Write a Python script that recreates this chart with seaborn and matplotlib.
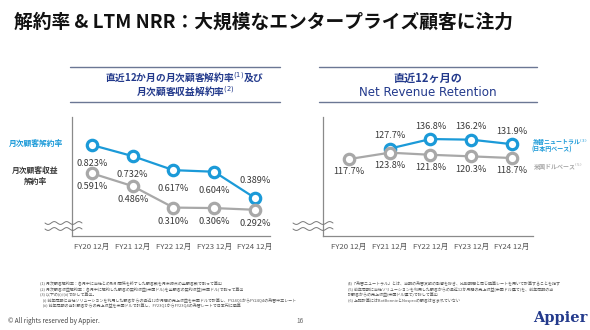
import numpy as np
import pandas as pd
import matplotlib
matplotlib.use("Agg")
import matplotlib.pyplot as plt
from matplotlib.lines import Line2D
import seaborn as sns

# ---- data ----
periods = ["FY20 12月", "FY21 12月", "FY22 12月", "FY23 12月", "FY24 12月"]
churn_customers = [0.823, 0.732, 0.617, 0.604, 0.389]      # 月次顧客解約率 (%)
churn_revenue = [0.591, 0.486, 0.310, 0.306, 0.292]        # 月次顧客収益解約率 (%)
nrr_fx_neutral = [None, 127.7, 136.8, 136.2, 131.9]         # 為替ニュートラル (%)
nrr_usd = [117.7, 123.8, 121.8, 120.3, 118.7]               # 米国ドルベース (%)

BLUE = "#1b9ad8"
GRAY = "#a8a8a8"
NAVY = "#233a8c"
TEXT = "#3a3a3a"

sns.set_theme(style="white")
plt.rcParams["font.family"] = ["Noto Sans CJK JP", "DejaVu Sans"]

W, H = 590, 330
fig = plt.figure(figsize=(W / 100, H / 100), dpi=100)
fig.patch.set_facecolor("white")


def px_axes(x0, y0, x1, y1):
    """Axes from pixel box (top-left origin)."""
    return fig.add_axes([x0 / W, 1 - y1 / H, (x1 - x0) / W, (y1 - y0) / H])


def ftext(x, y, s, **kw):
    fig.text(x / W, 1 - y / H, s, **kw)


def fline(xs, ys, **kw):
    xs = np.asarray(xs, float)
    ys = np.asarray(ys, float)
    fig.add_artist(Line2D(xs / W, 1 - ys / H, transform=fig.transFigure, **kw))


def wave(x0, x1, y, color="#777777"):
    xs = np.linspace(x0, x1, 80)
    ys = y + 1.4 * np.sin((xs - x0) / (x1 - x0) * 2 * np.pi * 3)
    fline(xs, ys, color=color, lw=0.7)


def series(ax, xs, ys, color):
    df = pd.DataFrame({"x": xs, "y": ys}).dropna()
    sns.lineplot(data=df, x="x", y="y", ax=ax, color=color, lw=1.6,
                 marker="o", markersize=7.5, markerfacecolor="white",
                 markeredgecolor=color, markeredgewidth=2.3, errorbar=None)
    return df


def style_axes(ax, xlim, ylim):
    ax.set_xlim(*xlim)
    ax.set_ylim(*ylim)
    ax.set_facecolor("none")
    for s in ["top", "right"]:
        ax.spines[s].set_visible(False)
    for s in ["left", "bottom"]:
        ax.spines[s].set_color("#8a8a8a")
        ax.spines[s].set_linewidth(0.9)
    ax.set_yticks([])
    ax.set_xticks(range(len(periods)))
    ax.set_xticklabels(periods, fontsize=5.6, color="#555555")
    ax.tick_params(axis="x", length=0, pad=5)
    ax.set_xlabel("")
    ax.set_ylabel("")


# ---- page title ----
ftext(14, 22, "解約率 & LTM NRR：大規模なエンタープライズ顧客に注力",
      fontsize=13.5, fontweight="bold", color="#111111", va="center", ha="left")

# ---- left panel: churn ----
fline([70, 280], [67, 67], color="#6b7794", lw=1.0)
fline([70, 280], [102, 102], color="#6b7794", lw=1.0)
ftext(185, 78, "直近12か月の月次顧客解約率$^{(1)}$及び", fontsize=7, fontweight="bold",
      color=NAVY, ha="center", va="center")
ftext(185, 92, "月次顧客収益解約率$^{(2)}$", fontsize=7, fontweight="bold",
      color=NAVY, ha="center", va="center")

axL = px_axes(72, 117, 270, 236)
x = np.arange(len(periods))
dfb = series(axL, x, churn_customers, BLUE)
dfg = series(axL, x, churn_revenue, GRAY)
style_axes(axL, (-0.49, 4.37), (0.077, 1.053))

for xi, v in zip(dfb["x"], dfb["y"]):
    above = xi == 4
    axL.annotate(f"{v:.3f}%", (xi, v), xytext=(0, 9 if above else -10),
                 textcoords="offset points", ha="center",
                 va="bottom" if above else "top", fontsize=6.6, color=TEXT)
for xi, v in zip(dfg["x"], dfg["y"]):
    axL.annotate(f"{v:.3f}%", (xi, v), xytext=(0, -6.5),
                 textcoords="offset points", ha="center", va="top",
                 fontsize=6.6, color=TEXT)

ftext(36, 143, "月次顧客解約率", fontsize=5.6, fontweight="bold", color=BLUE,
      ha="center", va="center")
ftext(35, 170, "月次顧客収益", fontsize=5.6, fontweight="bold", color=TEXT,
      ha="center", va="center")
ftext(35, 181, "解約率", fontsize=5.6, fontweight="bold", color=TEXT,
      ha="center", va="center")
wave(45, 82, 223)
wave(45, 82, 229)

# ---- right panel: NRR ----
fline([319, 537], [67, 67], color="#6b7794", lw=1.0)
fline([319, 537], [102, 102], color="#6b7794", lw=1.0)
ftext(428, 78, "直近12ヶ月の", fontsize=8, fontweight="bold", color=NAVY,
      ha="center", va="center")
ftext(428, 93, "Net Revenue Retention", fontsize=8.6, color=NAVY,
      ha="center", va="center", family=["DejaVu Sans"])

axR = px_axes(323, 117, 533, 236)
dfb2 = series(axR, x, nrr_fx_neutral, BLUE)
dfg2 = series(axR, x, nrr_usd, GRAY)
style_axes(axR, (-0.64, 4.52), (44.4, 157.8))

for xi, v in zip(dfb2["x"], dfb2["y"]):
    axR.annotate(f"{v:.1f}%", (xi, v), xytext=(0, 6),
                 textcoords="offset points", ha="center", va="bottom",
                 fontsize=6.6, color=TEXT)
for xi, v in zip(dfg2["x"], dfg2["y"]):
    axR.annotate(f"{v:.1f}%", (xi, v), xytext=(0, -6),
                 textcoords="offset points", ha="center", va="top",
                 fontsize=6.6, color=TEXT)

ftext(532, 142, "為替ニュートラル$^{(3)}$", fontsize=4.3, fontweight="bold",
      color=BLUE, ha="left", va="center")
ftext(532, 149.5, "(日本円ベース)", fontsize=4.3, fontweight="bold",
      color=BLUE, ha="left", va="center")
ftext(533, 166, "米国ドルベース$^{(5)}$", fontsize=4.3, fontweight="bold",
      color=GRAY, ha="left", va="center")
wave(293, 333, 223)
wave(293, 333, 229)

# ---- footnotes ----
notes_left = [
    "(1) 月次顧客解約率：各月中に当社との取引関係を終了した顧客数を月末時点の全顧客数で割って算出",
    "(2) 月次顧客収益解約率：各月中に解約した顧客の契約収益(米国ドル)を全顧客の契約収益(米国ドル)で割って算出",
    "(3) 以下の(i)/(ii)で除して算出。",
    "   (i) 前年同期に当社ソリューションを利用した顧客からの直近12か月間の売上収益を米国ドルで計算し、FY24Q1からFY24Q4の為替中立レート",
    "   (ii) 前年同期の当該顧客からの売上収益を米国ドルで計算し、FY23Q1からFY23Q4の為替レートで日本円に換算",
]
notes_right = [
    "(4)「為替ニュートラル」とは、当期の為替変動の影響を除き、比較期間と同じ換算レートを用いて計算することを指す",
    "(5) 前年同期に当社ソリューションを利用した顧客からの直近12か月間の売上収益(米国ドル建て)を、前年同期の当",
    "該顧客からの売上収益(米国ドル建て)で除して算出",
    "(6) 上記計算にはBotBonnieとNosproの顧客は含まれていない",
]
for i, s in enumerate(notes_left):
    ftext(40, 284 + i * 5.6, s, fontsize=2.9, color="#555555", ha="left", va="center")
for i, s in enumerate(notes_right):
    ftext(348, 284 + i * 5.6, s, fontsize=2.9, color="#555555", ha="left", va="center")

# ---- footer ----
ftext(8, 321, "© All rights reserved by Appier.", fontsize=4.6, color="#444444",
      ha="left", va="center")
ftext(300, 321, "16", fontsize=4.6, color="#666666", ha="center", va="center")
ftext(560, 318, "Appier", fontsize=10.5, fontweight="bold", color=NAVY,
      ha="center", va="center", family=["DejaVu Serif"])

fig.savefig("out.png", dpi=100, facecolor="white")
